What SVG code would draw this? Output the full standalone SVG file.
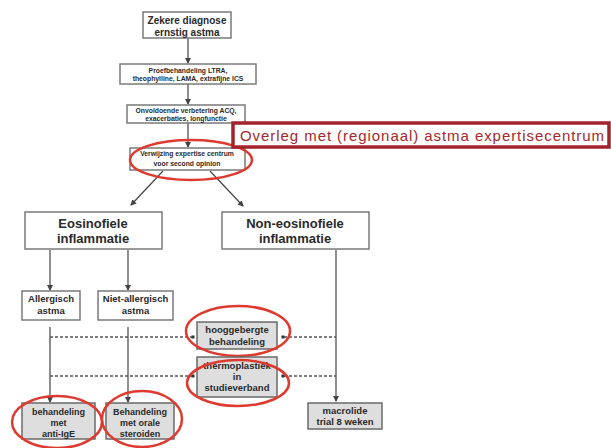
<svg xmlns="http://www.w3.org/2000/svg" width="611" height="448" viewBox="0 0 611 448">
<defs>
<style>
.box{fill:#ffffff;stroke:#7a7a7a;stroke-width:1.5}
.gbox{fill:#dedede;stroke:#6a6a6a;stroke-width:1.5}
.t{font-family:"Liberation Sans",Arial,sans-serif;font-weight:bold;fill:#2a2a2a;text-anchor:middle}
.ln{stroke:#444;stroke-width:1.2;fill:none}
.dot{stroke:#555;stroke-width:1.5;stroke-dasharray:3 2;fill:none}
.red{fill:none;stroke:#dd3a30;stroke-width:2.5}
</style>
<marker id="ah" viewBox="0 0 6 6" refX="5" refY="3" markerWidth="5" markerHeight="5" orient="auto">
<path d="M0,0 L6,3 L0,6 z" fill="#444"/>
</marker>
</defs>
<rect width="611" height="448" fill="#ffffff"/>
<g id="connectors">
<line class="ln" x1="188" y1="38" x2="188" y2="63" marker-end="url(#ah)"/>
<line class="ln" x1="188" y1="84" x2="188" y2="104" marker-end="url(#ah)"/>
<line class="ln" x1="188" y1="123" x2="188" y2="147" marker-end="url(#ah)"/>
<line class="ln" x1="163" y1="171" x2="131" y2="205" marker-end="url(#ah)"/>
<line class="ln" x1="210" y1="171" x2="243" y2="206" marker-end="url(#ah)"/>
<line class="ln" x1="50" y1="250" x2="50" y2="290" marker-end="url(#ah)"/>
<line class="ln" x1="128" y1="250" x2="128" y2="290" marker-end="url(#ah)"/>
<line class="ln" x1="50" y1="327" x2="50" y2="402" marker-end="url(#ah)"/>
<line class="ln" x1="128" y1="327" x2="128" y2="402" marker-end="url(#ah)"/>
<line class="ln" x1="336" y1="250" x2="336" y2="401" marker-end="url(#ah)"/>
<line class="dot" x1="50" y1="337" x2="192" y2="337"/>
<line class="dot" x1="284" y1="337" x2="336" y2="337"/>
<line class="dot" x1="50" y1="376" x2="192" y2="376"/>
<line class="dot" x1="284" y1="376" x2="336" y2="376"/>
<rect x="191.5" y="335.5" width="3" height="3" fill="#333"/>
<rect x="281.5" y="335.5" width="3" height="3" fill="#333"/>
<rect x="191.5" y="374.5" width="3" height="3" fill="#333"/>
<rect x="281.5" y="374.5" width="3" height="3" fill="#333"/>
</g>
<g id="n1">
<rect class="box" x="143" y="12" width="88" height="26"/>
<text class="t" font-size="10" x="187" y="23.5">Zekere diagnose</text>
<text class="t" font-size="10" x="187" y="35.5">ernstig astma</text>
</g>
<g id="n2">
<rect class="box" x="120" y="64" width="136" height="20"/>
<text class="t" font-size="6.8" x="188" y="72.5">Proefbehandeling LTRA,</text>
<text class="t" font-size="6.8" x="188" y="81">theophylline, LAMA, extrafijne ICS</text>
</g>
<g id="n3">
<rect class="box" x="127" y="105" width="118" height="18"/>
<text class="t" font-size="6.8" x="186" y="112.5">Onvoldoende verbetering ACQ,</text>
<text class="t" font-size="6.8" x="186" y="121">exacerbaties, longfunctie</text>
</g>
<g id="n4">
<rect class="box" x="130" y="148" width="115" height="22"/>
<text class="t" font-size="6.8" x="187" y="156">Verwijzing expertise centrum</text>
<text class="t" font-size="6.8" x="187" y="165.5">voor second opinion</text>
<ellipse class="red" cx="191" cy="160" rx="61" ry="20"/>
</g>
<g id="overleg">
<rect x="233" y="123" width="376" height="24" fill="#ffffff" stroke="#a3232b" stroke-width="3.5"/>
<text x="240" y="141" font-family="'Liberation Sans',Arial,sans-serif" font-size="15" fill="#a3282e" textLength="364" lengthAdjust="spacing">Overleg met (regionaal) astma expertisecentrum</text>
</g>
<g id="eos">
<rect class="box" x="25" y="212" width="137" height="37" stroke-width="2"/>
<text class="t" font-size="13" x="93" y="227.5">Eosinofiele</text>
<text class="t" font-size="13" x="93" y="242.5">inflammatie</text>
</g>
<g id="noneos">
<rect class="box" x="222" y="212" width="147" height="37" stroke-width="2"/>
<text class="t" font-size="13" x="295" y="227.5">Non-eosinofiele</text>
<text class="t" font-size="13" x="295" y="242.5">inflammatie</text>
</g>
<g id="allergisch">
<rect class="box" x="22" y="291" width="58" height="29" stroke-width="2"/>
<text class="t" font-size="9.5" x="51" y="301.5">Allergisch</text>
<text class="t" font-size="9.5" x="51" y="313.5">astma</text>
</g>
<g id="nietallergisch">
<rect class="box" x="98" y="291" width="75" height="29" stroke-width="2"/>
<text class="t" font-size="9.5" x="135.5" y="301.5">Niet-allergisch</text>
<text class="t" font-size="9.5" x="135.5" y="313.5">astma</text>
</g>
<g id="hooggebergte">
<rect class="gbox" x="197" y="322" width="80" height="27"/>
<text class="t" font-size="9.5" x="237" y="332.5">hooggebergte</text>
<text class="t" font-size="9.5" x="237" y="344.5">behandeling</text>
<ellipse class="red" cx="238" cy="331" rx="52" ry="25"/>
</g>
<g id="thermoplastiek">
<rect class="gbox" x="197" y="357" width="80" height="40"/>
<text class="t" font-size="9.5" x="237" y="369">thermoplastiek</text>
<text class="t" font-size="9.5" x="237" y="380">in</text>
<text class="t" font-size="9.5" x="237" y="391">studieverband</text>
<ellipse class="red" cx="238" cy="383" rx="51" ry="23"/>
</g>
<g id="antiIgE">
<rect class="gbox" x="22" y="403" width="73" height="36" fill="#e2e2e2" stroke="#999"/>
<text class="t" font-size="9" x="58.5" y="414.5">behandeling</text>
<text class="t" font-size="9" x="58.5" y="425.5">met</text>
<text class="t" font-size="9" x="58.5" y="436.5">anti-IgE</text>
<ellipse class="red" cx="57" cy="422" rx="45" ry="26"/>
</g>
<g id="steroiden">
<rect class="gbox" x="106" y="403" width="68" height="36" fill="#e2e2e2" stroke="#999"/>
<text class="t" font-size="9" x="140" y="414.5">Behandeling</text>
<text class="t" font-size="9" x="140" y="425.5">met orale</text>
<text class="t" font-size="9" x="140" y="436.5">steroiden</text>
<ellipse class="red" cx="142" cy="419" rx="40" ry="28"/>
</g>
<g id="macrolide">
<rect class="gbox" x="308" y="403" width="74" height="26" fill="#e2e2e2" stroke="#999"/>
<text class="t" font-size="9.5" x="345" y="413.5">macrolide</text>
<text class="t" font-size="9.5" x="345" y="424.5">trial 8 weken</text>
</g>
</svg>
